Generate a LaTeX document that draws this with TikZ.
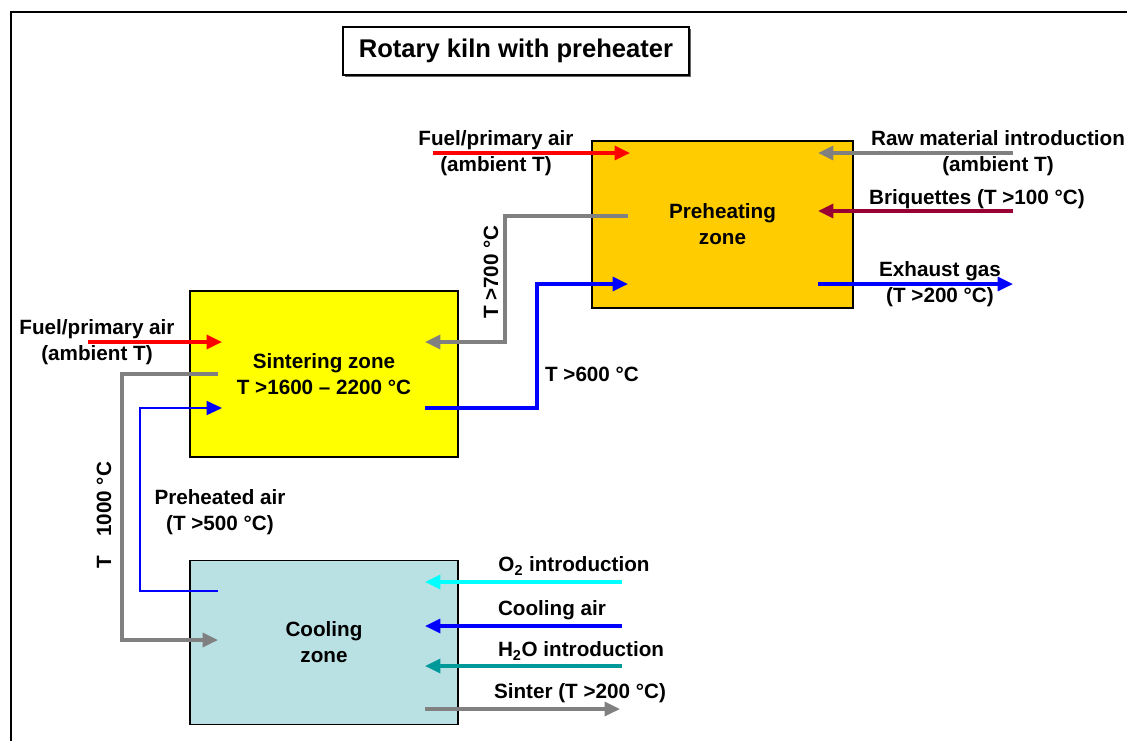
\documentclass[tikz,border=0pt]{standalone}
\usepackage{fontspec}
\setmainfont{Liberation Sans}
\usetikzlibrary{arrows.meta,positioning,shadows}

\definecolor{preheatfill}{RGB}{255,204,0}
\definecolor{sinterfill}{RGB}{255,255,0}
\definecolor{coolfill}{RGB}{185,224,227}
\definecolor{fuelred}{RGB}{255,0,0}
\definecolor{briqred}{RGB}{153,0,51}
\definecolor{flowgray}{RGB}{128,128,128}
\definecolor{flowblue}{RGB}{0,0,255}
\definecolor{flowcyan}{RGB}{0,255,255}
\definecolor{flowteal}{RGB}{0,153,153}

\tikzset{
  zone/.style={draw, line width=0.8pt, align=center, inner sep=0pt,
    font=\bfseries\fontsize{15.5}{19.5}\selectfont},
  flow/.style={line width=2.4pt, -{Triangle[length=11.5pt,width=10.5pt]}},
  thinflow/.style={line width=1.2pt, -{Triangle[length=11.5pt,width=10.5pt]}},
  lbl/.style={align=center, inner sep=0pt, font=\bfseries\fontsize{15.5}{19.5}\selectfont},
}

\begin{document}
\begin{tikzpicture}[x=0.75pt, y=-0.75pt]
  \useasboundingbox (0,0) rectangle (1127,740);
  \draw[line width=1.6pt] (11,780) |- (1160,12);

  \node[draw, line width=0.8pt, fill=white, minimum width=259.5pt, minimum height=36pt,
    drop shadow={shadow xshift=1.2pt, shadow yshift=-1.2pt, fill=black!60, opacity=1},
    font=\bfseries\fontsize{19.2}{23}\selectfont] (title) at (516,51) {Rotary kiln with preheater};

  \node[zone, fill=preheatfill, minimum width=195.75pt, minimum height=125.25pt] (pre) at (722.5,224.5) {Preheating\\zone};
  \node[zone, fill=sinterfill, minimum width=201pt, minimum height=124.5pt] (sin) at (324,374) {Sintering zone\\T >1600 – 2200 °C};
  \node[zone, fill=coolfill, minimum width=201pt, minimum height=123.5pt] (cool) at (324,642.5) {Cooling\\zone};

  \coordinate (fuelA) at (433,153);  \coordinate (preFuel) at (630,153);
  \coordinate (rawA) at (1013,153);  \coordinate (preRaw) at (818,153);
  \coordinate (briqA) at (1013,211); \coordinate (preBriq) at (818,211);
  \coordinate (preExh) at (818,284); \coordinate (exhA) at (1013,284);
  \coordinate (preOut) at (628,216); \coordinate (sinHot) at (425,342);
  \coordinate (sinOut) at (425,408); \coordinate (preIn) at (628,284);
  \coordinate (fuelB) at (88,342);   \coordinate (sinFuel) at (222,342);
  \coordinate (sinDown) at (218,374); \coordinate (coolIn) at (218,640);
  \coordinate (coolUp) at (218,591); \coordinate (sinAir) at (222,408);
  \coordinate (oxA) at (622,582);    \coordinate (coolOx) at (425,582);
  \coordinate (airA) at (622,626);   \coordinate (coolAir) at (425,626);
  \coordinate (waterA) at (622,666); \coordinate (coolWater) at (425,666);
  \coordinate (coolOut) at (425,709); \coordinate (sinterA) at (620,709);

  \draw[flow, fuelred] (fuelA) -- (preFuel);
  \draw[flow, flowgray] (rawA) -- (preRaw);
  \draw[flow, briqred] (briqA) -- (preBriq);
  \draw[flow, flowblue] (preExh) -- (exhA);
  \draw[flow, flowgray] (preOut) -| (505,342) -- (sinHot);
  \draw[flow, flowblue] (sinOut) -| (537,284) -- (preIn);
  \draw[flow, fuelred] (fuelB) -- (sinFuel);
  \draw[flow, flowgray] (sinDown) -| (122,640) -- (coolIn);
  \draw[thinflow, flowblue] (coolUp) -| (140,408) -- (sinAir);
  \draw[flow, flowcyan] (oxA) -- (coolOx);
  \draw[flow, flowblue] (airA) -- (coolAir);
  \draw[flow, flowteal] (waterA) -- (coolWater);
  \draw[flow, flowgray] (coolOut) -- (sinterA);

  \node[lbl] (fuelAlbl) at (496,153) {Fuel/primary air\\(ambient T)};
  \node[lbl] (rawlbl) at (998,153) {Raw material introduction\\(ambient T)};
  \node[lbl] (briqlbl) at (977,199) {Briquettes (T >100 °C)};
  \node[lbl] (exhlbl) at (940,284.5) {Exhaust gas\\(T >200 °C)};
  \node[lbl, rotate=90] (hotlbl) at (491,272) {T >700 °C};
  \node[lbl] (warmlbl) at (592,374) {T >600 °C};
  \node[lbl] (fuelBlbl) at (97,342) {Fuel/primary air\\(ambient T)};
  \node[lbl, rotate=90] (downlbl) at (104,515) {T\hspace{0.9em}1000 °C};
  \node[lbl] (airlbl) at (220,512) {Preheated air\\(T >500 °C)};
  \node[lbl] (oxlbl) at (574,566) {O\textsubscript{2} introduction};
  \node[lbl] (coollbl) at (552,610) {Cooling air};
  \node[lbl] (waterlbl) at (581,651) {H\textsubscript{2}O introduction};
  \node[lbl] (sinterlbl) at (580,693) {Sinter (T >200 °C)};
\end{tikzpicture}
\end{document}
